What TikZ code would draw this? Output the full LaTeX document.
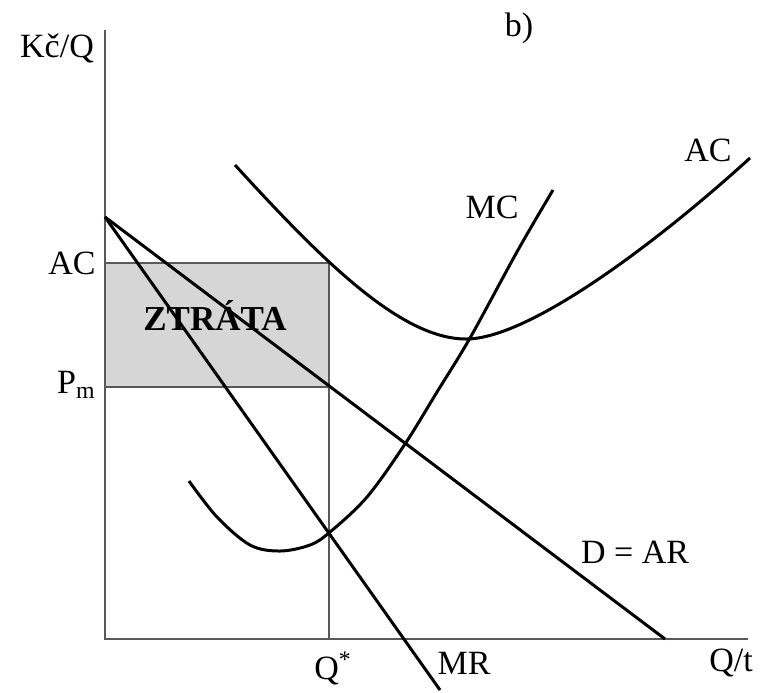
\documentclass[tikz,border=0pt]{standalone}
\usepackage{fontspec}
\setmainfont{Liberation Serif}
\begin{document}
\begin{tikzpicture}[x=0.5pt,y=-0.5pt,
  axisline/.style={draw=black!65,line width=1pt},
  curve/.style={draw=black,line width=1.5pt,line join=round},
  lbl/.style={inner sep=0pt,font=\fontsize{17}{18}\selectfont}]
\useasboundingbox (0,0) rectangle (763,692);
% coordinates
\coordinate (O) at (105,639);
\coordinate (ytop) at (105,30);
\coordinate (xend) at (748,639);
\coordinate (ACy) at (105,263);
\coordinate (Pmy) at (105,387);
\coordinate (qtop) at (329,263);
\coordinate (qmid) at (329,387);
\coordinate (qbot) at (329,639);
\coordinate (Dstart) at (105,217);
\coordinate (Dend) at (665,639);
\coordinate (MRend) at (440,690);
\coordinate (ACa) at (235,165);
\coordinate (ACmin) at (466,339);
\coordinate (ACb) at (750,158);
% loss rectangle
\fill[black!16] (ACy) rectangle (qmid);
\draw[axisline] (ACy) -- (qtop) -- (qbot);
\draw[axisline] (Pmy) -- (qmid);
% axes
\draw[axisline] (ytop) -- (O) -- (xend);
% D and MR
\draw[curve] (Dstart) -- (Dend);
\draw[curve] (Dstart) -- (MRend);
% MC
\draw[curve] plot[smooth,tension=0.55] coordinates {(189,481) (217,517) (250,545) (280,551) (310,545) (330,532) (367,497) (405,444) (437,392) (470,338) (518,250) (553,190)};
% AC
\draw[curve] (ACa) .. controls (320,258) and (400,339) .. (ACmin)
  .. controls (530,339) and (660,240) .. (ACb);
% labels
\node[lbl] (kcq) at (57,48) {Kč/Q};
\node[lbl] (b) at (519,28) {b)};
\node[lbl] (acr) at (708,150) {AC};
\node[lbl] (mc) at (492,207) {MC};
\node[lbl,anchor=east] (acl) at (96,263) {AC};
\node[lbl,anchor=east] (pm) at (96,385) {P\textsubscript{m}};
\node[lbl,font=\fontsize{17.5}{18}\selectfont\bfseries] (loss) at (215,315) {ZTRÁTA};
\node[lbl,anchor=north] (qs) at (333,651) {Q\textsuperscript{*}};
\node[lbl] (mr) at (464,663) {MR};
\node[lbl] (qt) at (731,663) {Q/t};
\node[lbl] (dar) at (635,552) {D = AR};
\end{tikzpicture}
\end{document}
